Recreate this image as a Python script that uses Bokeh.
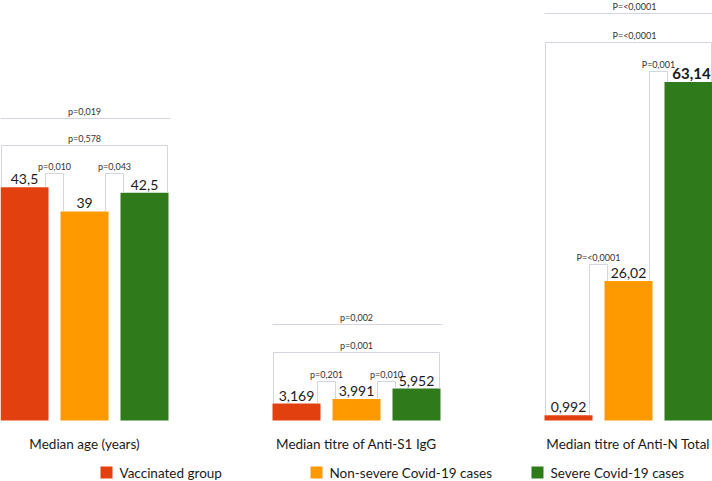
from bokeh.plotting import figure
from bokeh.models import Range1d
from bokeh.core.properties import value
from bokeh.embed import file_html
from bokeh.resources import INLINE

# ---------------- data ----------------
groups = ["Median age (years)", "Median titre of Anti-S1 IgG", "Median titre of Anti-N Total"]
series = ["Vaccinated group", "Non-severe Covid-19 cases", "Severe Covid-19 cases"]
vaccinated = [43.5, 3.169, 0.992]
non_severe = [39, 3.991, 26.02]
severe = [42.5, 5.952, 63.14]
# p-values per group: (pair 1-2, pair 2-3, pair 1-3, overall)
p_pair12 = ["p=0,010", "p=0,201", "P=<0,0001"]
p_pair23 = ["p=0,043", "p=0,010", "P=0,001"]
p_pair13 = ["p=0,578", "p=0,001", "P=<0,0001"]
p_overall = ["p=0,019", "p=0,002", "P=<0,0001"]

# ---------------- layout / style ----------------
colors = ["#E3400F", "#FF9900", "#2F7A1B"]
FONT = "Lato"
PX = 5.36          # reference pixels per value unit
BASE = 420         # reference pixel row of the bar baseline
def vy(ref_y):
    return (BASE - ref_y) / PX

GROUP_STEP = 272
BAR_STEP = 60
BAR_W = 48
# bracket levels (reference pixel rows) per group
lvl_pair12 = [173, 381, 264]
lvl_pair23 = [173, 381, 71]
lvl_pair13 = [145, 352, 42]
lvl_overall = [118, 324, 13]
BR_COLOR = "#D5D5DF"

W, H = 712, 481
p = figure(width=W, height=H, x_range=Range1d(0, 712), y_range=Range1d(vy(481), vy(0)),
           output_backend="svg", toolbar_location=None, min_border=0)
p.axis.visible = False
p.grid.visible = False
p.outline_line_color = None
p.background_fill_color = "white"

data = [vaccinated, non_severe, severe]

def fmt(v):
    return f"{v:g}".replace(".", ",")

# bars
for s, vals in enumerate(data):
    xs = [g * GROUP_STEP + BAR_W / 2 + s * BAR_STEP for g in range(len(groups))]
    p.vbar(x=xs, top=vals, bottom=0, width=BAR_W, fill_color=colors[s], line_color=None)

# value labels
for s, vals in enumerate(data):
    for g, v in enumerate(vals):
        xc = g * GROUP_STEP + BAR_W / 2 + s * BAR_STEP
        big = (g == 2 and s == 2)
        p.text(x=[xc + (3 if big else 0)], y=[v], text=[fmt(v)], text_align="center", text_baseline="bottom",
               y_offset=-3, text_font=value(FONT),
               text_font_size="15px" if big else "14px",
               text_font_style="bold" if big else "normal",
               text_color="#1a1a1a")

# brackets
bxs, bys = [], []
ptxt_x, ptxt_y, ptxt = [], [], []
for g in range(len(groups)):
    g0 = g * GROUP_STEP
    tops = [vaccinated[g], non_severe[g], severe[g]]
    lefts = [g0 + s * BAR_STEP for s in range(3)]
    rights = [l + BAR_W for l in lefts]
    for (a, b, lvl, txt) in [(0, 1, lvl_pair12[g], p_pair12[g]), (1, 2, lvl_pair23[g], p_pair23[g])]:
        xl, xr = rights[a] - 3, lefts[b] + 3
        bxs.append([xl, xl, xr, xr]); bys.append([tops[a], vy(lvl), vy(lvl), tops[b]])
        ptxt_x.append((xl + xr) / 2); ptxt_y.append(vy(lvl)); ptxt.append(txt)
    xl, xr = lefts[0] + 1, rights[2] - 1
    lvl = lvl_pair13[g]
    bxs.append([xl, xl, xr, xr]); bys.append([tops[0], vy(lvl), vy(lvl), tops[2]])
    ptxt_x.append((xl + xr) / 2 + (6 if g == 2 else 0)); ptxt_y.append(vy(lvl)); ptxt.append(p_pair13[g])
    lvl = lvl_overall[g]
    bxs.append([lefts[0], rights[2] + 2]); bys.append([vy(lvl), vy(lvl)])
    ptxt_x.append((lefts[0] + rights[2]) / 2 + (6 if g == 2 else 0)); ptxt_y.append(vy(lvl)); ptxt.append(p_overall[g])

p.multi_line(xs=bxs, ys=bys, line_color=BR_COLOR, line_width=1)
p.text(x=ptxt_x, y=ptxt_y, text=ptxt, text_align="center", text_baseline="bottom", y_offset=-2,
       text_font=value(FONT), text_font_size="9px", text_color="#333333")

# category labels
cx = [g * GROUP_STEP + BAR_STEP + BAR_W / 2 for g in range(len(groups))]
p.text(x=cx, y=[vy(443)] * 3, text=groups, text_align="center", text_baseline="middle",
       text_font=value(FONT), text_font_size="13.5px", text_color="#1a1a1a")

# legend
leg_x = [106, 316, 537]
p.rect(x=leg_x, y=[vy(472)] * 3, width=12, height=12, width_units="screen", height_units="screen",
       fill_color=colors, line_color=None)
p.text(x=[x + 13 for x in leg_x], y=[vy(472)] * 3, text=series, text_align="left", text_baseline="middle",
       text_font=value(FONT), text_font_size="13.5px", text_color="#1a1a1a")

open("out.html", "w").write(file_html(p, INLINE))
